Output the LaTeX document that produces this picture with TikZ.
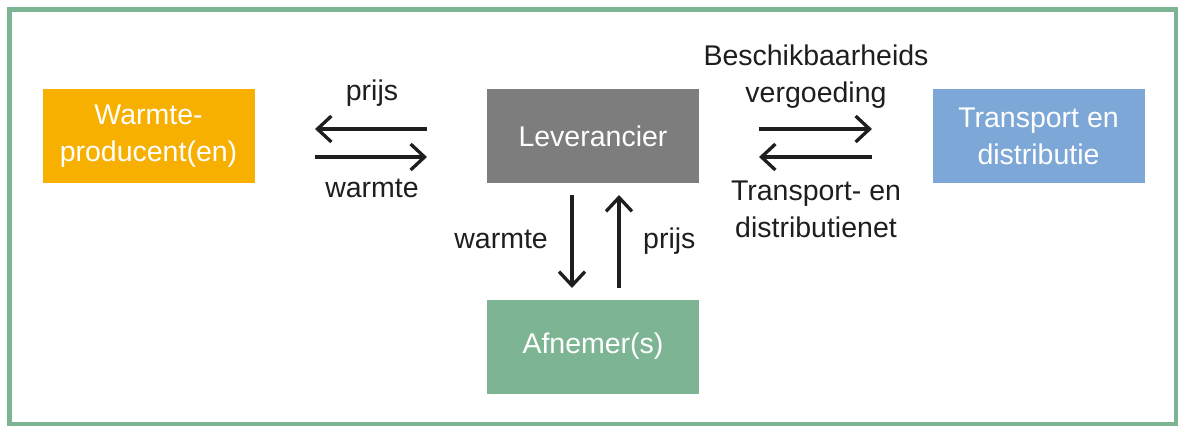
\documentclass[tikz,border=0pt]{standalone}
\usepackage{fontspec}
\setmainfont{Liberation Sans}
\usetikzlibrary{arrows.meta}
\definecolor{frameg}{RGB}{125,181,148}
\definecolor{orng}{RGB}{248,176,0}
\definecolor{grayb}{RGB}{125,125,125}
\definecolor{greenb}{RGB}{125,181,148}
\definecolor{blueb}{RGB}{125,167,214}
\definecolor{txt}{RGB}{30,30,30}
\begin{document}
\begin{tikzpicture}[x=1pt,y=-1pt,
  box/.style={minimum width=212pt,minimum height=94pt,inner sep=0pt,text=white,align=center,font=\fontsize{28.5}{37}\selectfont},
  lbl/.style={inner sep=0pt,text=txt,font=\fontsize{28.5}{37}\selectfont},
  arr/.style={line width=3.3pt,draw=txt,-{Straight Barb[length=14pt,width=26pt]}}]
\useasboundingbox (0,0) rectangle (1178,426);
\draw[frameg,line width=4.5pt] (9.5,9.5) rectangle (1176,424);
\node[box,fill=orng] (prod) at (148.5,136) {\raisebox{-4pt}{\parbox{212pt}{\centering Warmte-\\producent(en)}}};
\node[box,fill=grayb] (lev) at (593,136) {Leverancier};
\node[box,fill=greenb] (afn) at (593,346.5) {Afnemer(s)};
\node[box,fill=blueb] (tra) at (1038.5,136) {\raisebox{-4pt}{\parbox{212pt}{\centering Transport en\\distributie}}};
% left arrows
\coordinate (a1s) at (427,129); \coordinate (a1e) at (315,129);
\coordinate (a2s) at (315,157); \coordinate (a2e) at (427,157);
\draw[arr] (a1s) -- (a1e);
\draw[arr] (a2s) -- (a2e);
\node[lbl,anchor=base] (lp) at (372,100) {prijs};
\node[lbl,anchor=base] (lw) at (372,197) {warmte};
% vertical arrows
\coordinate (v1s) at (572,195); \coordinate (v1e) at (572,288);
\coordinate (v2s) at (619,288); \coordinate (v2e) at (619,195);
\draw[arr] (v1s) -- (v1e);
\draw[arr] (v2s) -- (v2e);
\node[lbl,anchor=base east] (vw) at (548,248) {warmte};
\node[lbl,anchor=base west] (vp) at (643,248) {prijs};
% right arrows
\coordinate (r1s) at (759,129); \coordinate (r1e) at (872,129);
\coordinate (r2s) at (872,157); \coordinate (r2e) at (759,157);
\draw[arr] (r1s) -- (r1e);
\draw[arr] (r2s) -- (r2e);
\node[lbl,anchor=base] (rb1) at (816,65) {Beschikbaarheids};
\node[lbl,anchor=base] (rb2) at (816,102) {vergoeding};
\node[lbl,anchor=base] (rt1) at (816,200) {Transport- en};
\node[lbl,anchor=base] (rt2) at (816,237) {distributienet};
\end{tikzpicture}
\end{document}
